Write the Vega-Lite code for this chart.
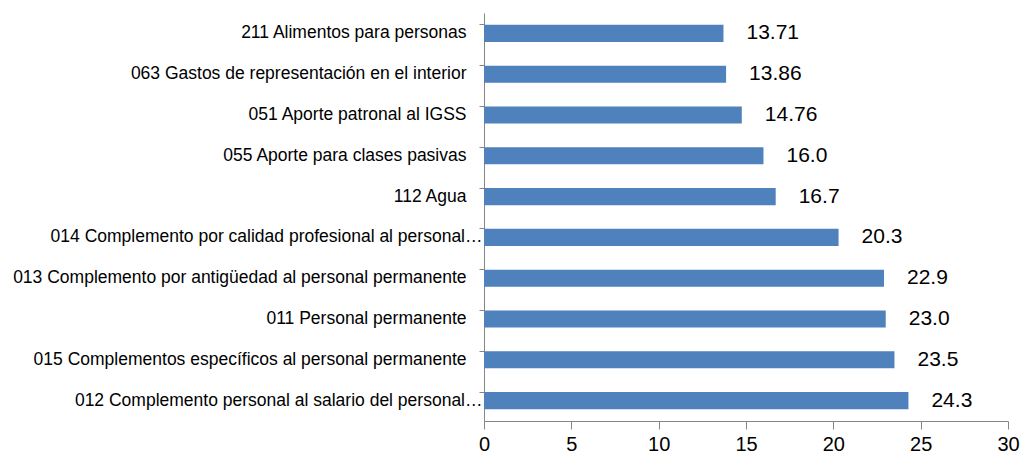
{
  "$schema": "https://vega.github.io/schema/vega-lite/v6.json",
  "autosize": {"type": "none"},
  "padding": {"left": 484, "top": 13, "right": 13, "bottom": 41},
  "width": 524,
  "height": 408,
  "background": "white",
  "data": {
    "values": [
      {"cat": "211 Alimentos para personas", "value": 13.71, "label": "13.71"},
      {"cat": "063 Gastos de representación en el interior", "value": 13.86, "label": "13.86"},
      {"cat": "051 Aporte patronal al IGSS", "value": 14.76, "label": "14.76"},
      {"cat": "055 Aporte para clases pasivas", "value": 16.0, "label": "16.0"},
      {"cat": "112 Agua", "value": 16.7, "label": "16.7"},
      {"cat": "014 Complemento por calidad profesional al personal…", "value": 20.3, "label": "20.3"},
      {"cat": "013 Complemento por antigüedad al personal permanente", "value": 22.9, "label": "22.9"},
      {"cat": "011 Personal permanente", "value": 23.0, "label": "23.0"},
      {"cat": "015 Complementos específicos al personal permanente", "value": 23.5, "label": "23.5"},
      {"cat": "012 Complemento personal al salario del personal…", "value": 24.3, "label": "24.3"}
    ]
  },
  "config": {
    "view": {"stroke": null},
    "font": "Liberation Sans"
  },
  "encoding": {
    "y": {
      "field": "cat",
      "type": "nominal",
      "sort": null,
      "scale": {"paddingInner": 0.58, "paddingOuter": 0.29},
      "axis": {
        "title": null,
        "domainColor": "#868686",
        "tickColor": "#868686",
        "tickSize": 5,
        "bandPosition": 0,
        "labelFont": "Liberation Sans",
        "labelFontSize": 17.5,
        "labelColor": "#000000",
        "labelPadding": {"condition": {"test": "indexof(datum.label, '…') >= 0", "value": -3}, "value": 13},
        "labelLimit": 600
      }
    },
    "x": {
      "field": "value",
      "type": "quantitative",
      "scale": {"domain": [0, 30], "nice": false},
      "axis": {
        "title": null,
        "values": [0, 5, 10, 15, 20, 25, 30],
        "grid": false,
        "domainColor": "#868686",
        "tickColor": "#868686",
        "tickSize": 8,
        "labelFont": "Liberation Sans",
        "labelFontSize": 20,
        "labelColor": "#000000",
        "labelPadding": 5,
        "labelFlush": false
      }
    }
  },
  "layer": [
    {
      "mark": {"type": "bar", "color": "#4F81BD"}
    },
    {
      "mark": {"type": "text", "align": "left", "dx": 23, "font": "Liberation Sans", "fontSize": 21, "color": "#000000", "baseline": "middle"},
      "encoding": {"text": {"field": "label"}}
    }
  ]
}
